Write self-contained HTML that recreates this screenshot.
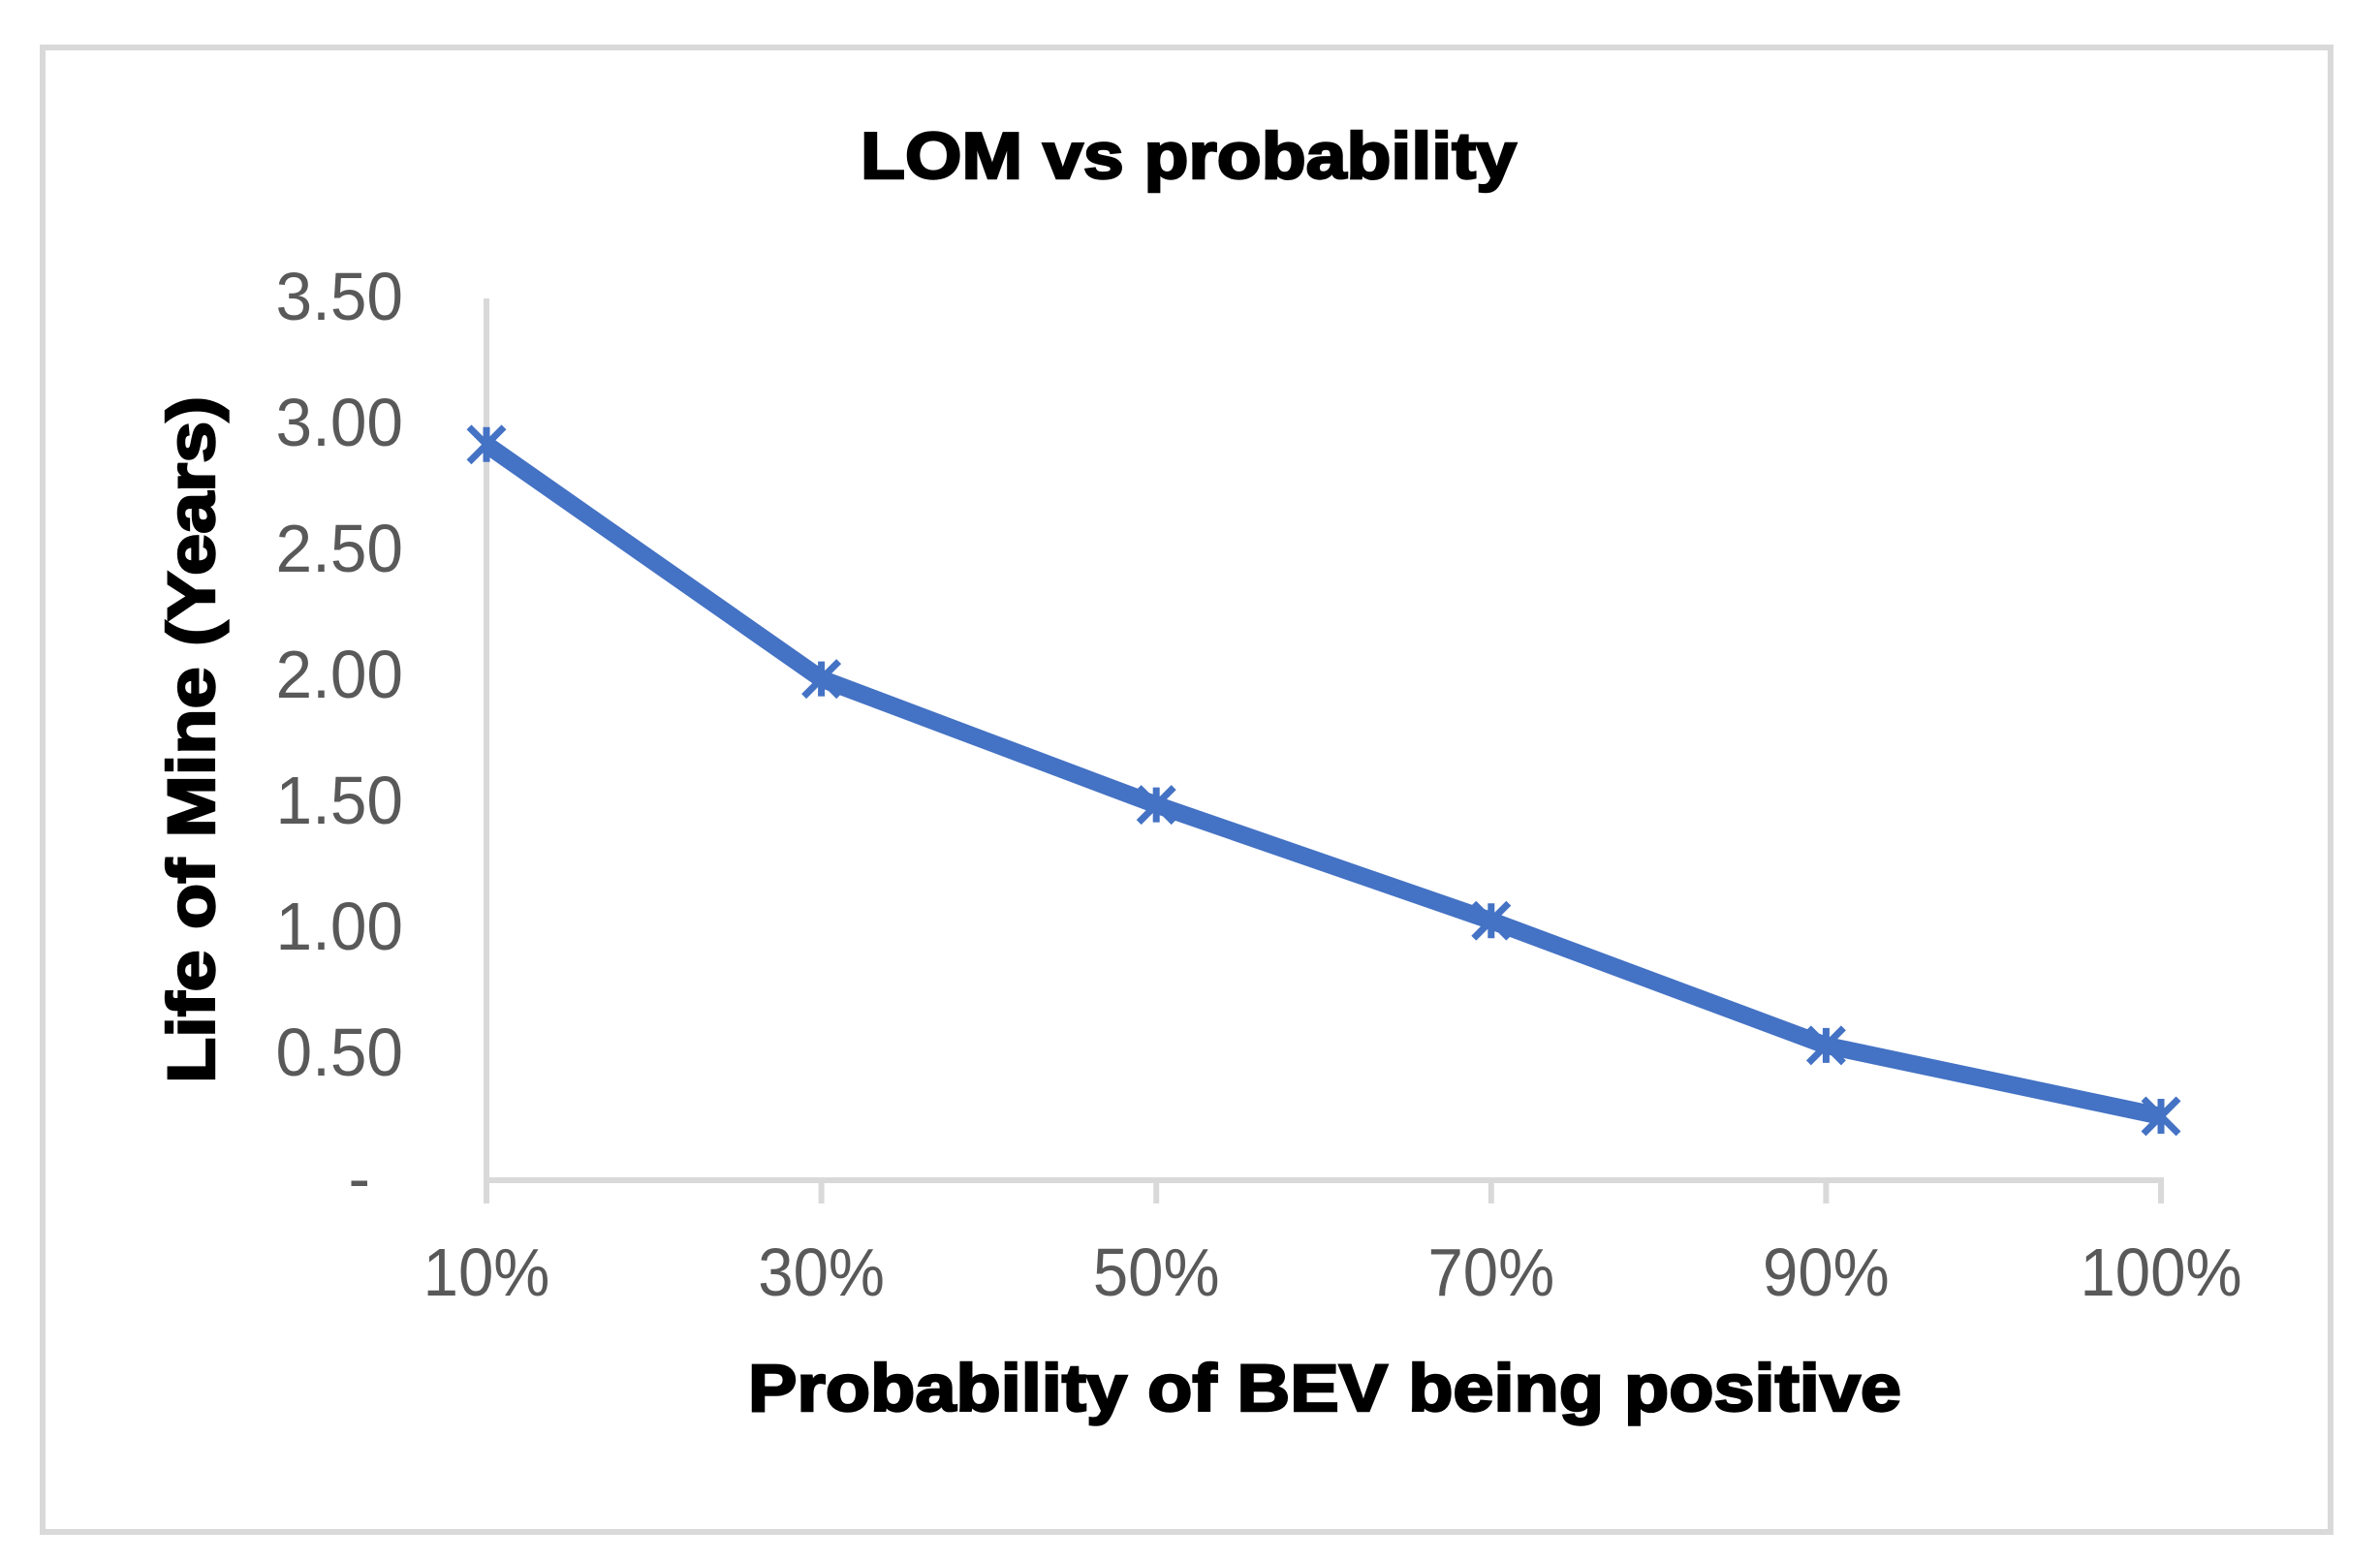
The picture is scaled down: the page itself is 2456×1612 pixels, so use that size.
<!DOCTYPE html>
<html lang="en">
<head>
<meta charset="utf-8">
<title>LOM vs probability</title>
<style>
html,body{margin:0;padding:0;background:#fff;}
svg{display:block;}
text{font-family:"Liberation Sans",sans-serif;}
.tick{font-size:70px;fill:#595959;}
.ttl{font-weight:bold;fill:#000;stroke:#000;stroke-width:2.4px;}
</style>
</head>
<body>
<svg id="chart" xmlns="http://www.w3.org/2000/svg" width="2456" height="1612" viewBox="0 0 2456 1612">
  <rect x="0" y="0" width="2456" height="1612" fill="#ffffff"/>
  <rect x="44" y="49" width="2361" height="1532" fill="#ffffff" stroke="#d9d9d9" stroke-width="6"/>
  <text class="ttl" x="888" y="184" font-size="68" textLength="677" lengthAdjust="spacingAndGlyphs">LOM vs probability</text>
  <text class="ttl" x="772" y="1456" font-size="69" textLength="1190" lengthAdjust="spacingAndGlyphs">Probability of BEV being positive</text>
  <text class="ttl" transform="translate(221 1118) rotate(-90)" font-size="69" textLength="709" lengthAdjust="spacingAndGlyphs">Life of Mine (Years)</text>
  <g id="axes"></g>
  <g id="series"></g>
</svg>
<script>
const categories = ['10%', '30%', '50%', '70%', '90%', '100%'];
const lomValues = [2.92, 1.99, 1.49, 1.03, 0.535, 0.254];
const yTickValues = [0, 0.5, 1, 1.5, 2, 2.5, 3, 3.5];
const yTickLabels = ['-', '0.50', '1.00', '1.50', '2.00', '2.50', '3.00', '3.50'];

const NS = 'http://www.w3.org/2000/svg';
const axesGroup = document.getElementById('axes');
const seriesGroup = document.getElementById('series');
const AXIS_COLOR = '#d9d9d9';
const LINE_COLOR = '#4472c4';
const plotLeft = 502, plotRight = 2230, plotBottom = 1218, plotTop = 308, yMax = 3.5;

function xScale(i) { return plotLeft + i * (plotRight - plotLeft) / (categories.length - 1); }
function yScale(v) { return plotBottom - (v / yMax) * (plotBottom - plotTop); }
function make(tag, attrs, parent) {
  const el = document.createElementNS(NS, tag);
  for (const k in attrs) el.setAttribute(k, attrs[k]);
  parent.appendChild(el);
  return el;
}
function squeeze(el, ratio) {
  el.setAttribute('textLength', (el.getComputedTextLength() * ratio).toFixed(1));
  el.setAttribute('lengthAdjust', 'spacingAndGlyphs');
}

const yAxis = make('line', {x1: plotLeft, x2: plotLeft, y1: plotTop, y2: plotBottom + 24, stroke: AXIS_COLOR, 'stroke-width': 6}, axesGroup);


const xAxis = make('line', {x1: plotLeft, x2: plotRight + 3, y1: plotBottom, y2: plotBottom, stroke: AXIS_COLOR, 'stroke-width': 6}, axesGroup);



categories.forEach(function (c, i) {
  const x = xScale(i);
  if (i > 0) {
    const t = make('line', {x1: x, x2: x, y1: plotBottom, y2: plotBottom + 24, stroke: AXIS_COLOR, 'stroke-width': 6}, axesGroup);
    
    
  }
  const lab = make('text', {x: x, y: 1337, 'text-anchor': 'middle', class: 'tick'}, axesGroup);
  lab.textContent = c;
  
  
  squeeze(lab, 0.933);
});

yTickValues.forEach(function (v, i) {
  const isZero = v === 0;
  const lab = make('text', {x: isZero ? 382 : 416, y: yScale(v) + 22, 'text-anchor': 'end', class: 'tick'}, axesGroup);
  lab.textContent = yTickLabels[i];
  
  
  squeeze(lab, 0.965);
});

const pts = lomValues.map(function (v, i) { return xScale(i) + ',' + yScale(v); }).join(' ');
const line = make('polyline', {points: pts, fill: 'none', stroke: LINE_COLOR, 'stroke-width': 18, 'stroke-linejoin': 'round'}, seriesGroup);



lomValues.forEach(function (v, i) {
  const cx = xScale(i), cy = yScale(v), r = 18;
  const d = 'M' + (cx - r) + ' ' + (cy - r) + 'L' + (cx + r) + ' ' + (cy + r) +
            'M' + (cx - r) + ' ' + (cy + r) + 'L' + (cx + r) + ' ' + (cy - r) +
            'M' + cx + ' ' + (cy - r) + 'L' + cx + ' ' + (cy + r);
  const m = make('path', {d: d, fill: 'none', stroke: LINE_COLOR, 'stroke-width': 7}, seriesGroup);
  
  
});
</script>
</body>
</html>
